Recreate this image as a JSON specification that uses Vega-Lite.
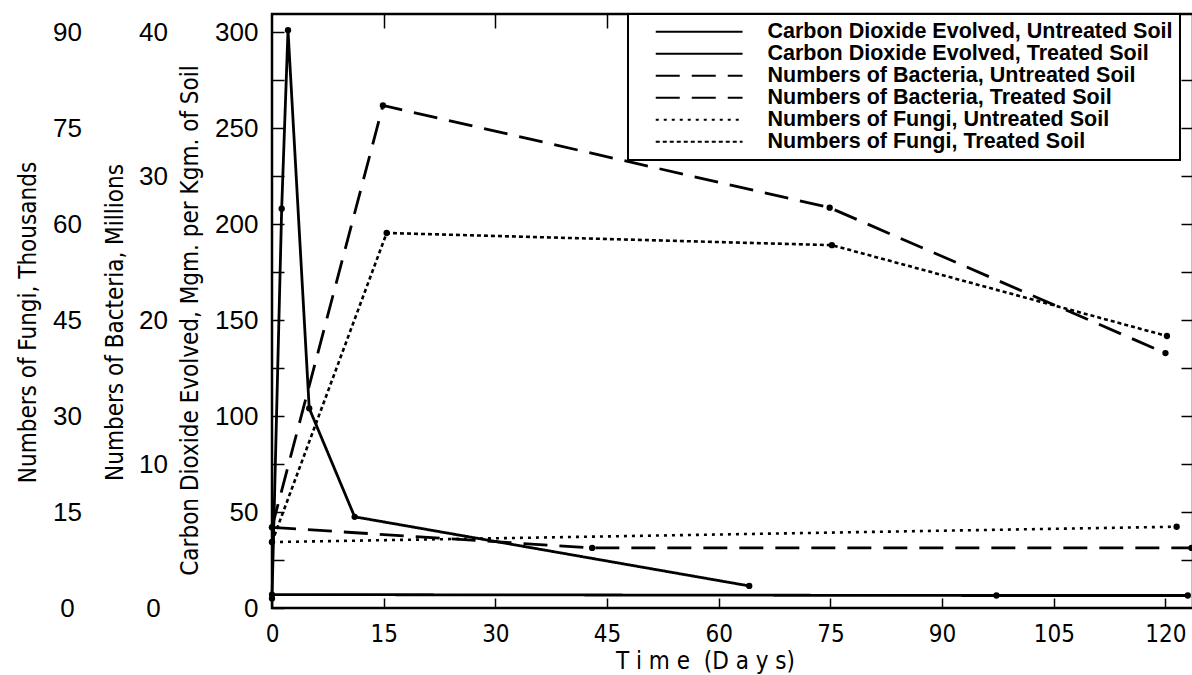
{
  "$schema": "https://vega.github.io/schema/vega-lite/v6.json",
  "autosize": "none",
  "padding": {"left": 272, "top": 14, "right": 0, "bottom": 68},
  "width": 921,
  "height": 594,
  "background": "white",
  "data": {
    "values": [
      {"kind": "CO2", "series": "Carbon Dioxide Evolved, Untreated Soil", "day": 0, "value": 7},
      {"kind": "CO2", "series": "Carbon Dioxide Evolved, Untreated Soil", "day": 97.3, "value": 6.5},
      {"kind": "CO2", "series": "Carbon Dioxide Evolved, Untreated Soil", "day": 123, "value": 6.5},
      {"kind": "CO2", "series": "Carbon Dioxide Evolved, Treated Soil", "day": 0, "value": 5},
      {"kind": "CO2", "series": "Carbon Dioxide Evolved, Treated Soil", "day": 1.3, "value": 208},
      {"kind": "CO2", "series": "Carbon Dioxide Evolved, Treated Soil", "day": 2.15, "value": 301},
      {"kind": "CO2", "series": "Carbon Dioxide Evolved, Treated Soil", "day": 5.0, "value": 104},
      {"kind": "CO2", "series": "Carbon Dioxide Evolved, Treated Soil", "day": 11.1, "value": 47.5},
      {"kind": "CO2", "series": "Carbon Dioxide Evolved, Treated Soil", "day": 64.1, "value": 11.5},
      {"kind": "Bacteria", "series": "Numbers of Bacteria, Untreated Soil", "day": 0, "value": 5.6},
      {"kind": "Bacteria", "series": "Numbers of Bacteria, Untreated Soil", "day": 43, "value": 4.17},
      {"kind": "Bacteria", "series": "Numbers of Bacteria, Untreated Soil", "day": 123.5, "value": 4.17},
      {"kind": "Bacteria", "series": "Numbers of Bacteria, Treated Soil", "day": 0, "value": 5.6},
      {"kind": "Bacteria", "series": "Numbers of Bacteria, Treated Soil", "day": 14.9, "value": 34.9},
      {"kind": "Bacteria", "series": "Numbers of Bacteria, Treated Soil", "day": 74.9, "value": 27.8},
      {"kind": "Bacteria", "series": "Numbers of Bacteria, Treated Soil", "day": 120, "value": 17.7},
      {"kind": "Fungi", "series": "Numbers of Fungi, Untreated Soil", "day": 0, "value": 10.3},
      {"kind": "Fungi", "series": "Numbers of Fungi, Untreated Soil", "day": 121.5, "value": 12.7},
      {"kind": "Fungi", "series": "Numbers of Fungi, Treated Soil", "day": 0, "value": 10.3},
      {"kind": "Fungi", "series": "Numbers of Fungi, Treated Soil", "day": 15.4, "value": 58.6},
      {"kind": "Fungi", "series": "Numbers of Fungi, Treated Soil", "day": 75.2, "value": 56.7},
      {"kind": "Fungi", "series": "Numbers of Fungi, Treated Soil", "day": 120.2, "value": 42.5}
    ]
  },
  "config": {
    "view": {"stroke": "black", "strokeWidth": 2.5},
    "axis": {
      "grid": false,
      "domain": false,
      "labelColor": "black",
      "titleColor": "black",
      "tickColor": "black",
      "tickWidth": 1.5,
      "labelFlush": false,
      "labelOverlap": false,
      "labelFont": "Liberation Sans",
      "labelFontSize": 26,
      "titleFont": "Liberation Sans Narrow, DejaVu Sans Condensed, sans-serif",
      "titleFontSize": 24,
      "titleFontWeight": "normal"
    },
    "legend": {
      "strokeColor": "black",
      "strokeWidth": 2,
      "fillColor": "white"
    }
  },
  "resolve": {"scale": {"x": "independent", "y": "independent"}},
  "layer": [
    {
      "transform": [{"filter": "datum.kind == 'CO2'"}],
      "mark": {"type": "line", "color": "black", "strokeWidth": 2.8},
      "encoding": {
        "x": {
          "field": "day", "type": "quantitative",
          "scale": {"domain": [0, 123.7], "nice": false, "zero": false},
          "axis": {
            "orient": "bottom",
            "values": [0, 15, 30, 45, 60, 75, 90, 105, 120],
            "tickSize": -10,
            "labelPadding": 24,
            "labelFont": "Liberation Sans Narrow, DejaVu Sans Condensed, sans-serif",
            "labelFontSize": 24,
            "title": "T i m e \u00a0(D a y s)",
            "titleFontSize": 24,
            "titleX": 433,
            "titleY": 53,
            "titleAlign": "center",
            "titleBaseline": "middle"
          }
        },
        "y": {
          "field": "value", "type": "quantitative",
          "scale": {"domain": [0, 309.4], "nice": false},
          "axis": {
            "orient": "left",
            "values": [0, 25, 50, 75, 100, 125, 150, 175, 200, 225, 250, 275, 300],
            "labelExpr": "datum.value % 50 == 0 ? datum.label : ''",
            "tickSize": -12,
            "labelPadding": 26,
            "title": "Carbon Dioxide Evolved, Mgm. per Kgm. of Soil",
            "titleX": -82,
            "titleY": 306,
            "titleAngle": -90,
            "titleAlign": "center",
            "titleBaseline": "middle"
          }
        },
        "strokeDash": {
          "field": "series", "type": "nominal",
          "scale": {
            "domain": ["Carbon Dioxide Evolved, Untreated Soil", "Carbon Dioxide Evolved, Treated Soil", "Numbers of Bacteria, Untreated Soil", "Numbers of Bacteria, Treated Soil", "Numbers of Fungi, Untreated Soil", "Numbers of Fungi, Treated Soil"],
            "range": [[1, 0], [1, 0], [24, 12], [24, 12], [3, 5], [4, 3]]
          },
          "legend": {
            "orient": "none",
            "legendX": 356,
            "legendY": 0,
            "title": null,
            "padding": 7,
            "symbolType": "M1.25,0H12.1",
            "symbolSize": 256,
            "symbolStrokeWidth": 2,
            "symbolStrokeColor": "black",
            "symbolOffset": 0,
            "labelOffset": 111,
            "labelFont": "Liberation Sans",
            "labelFontWeight": "bold",
            "labelFontSize": 21.5,
            "labelColor": "black",
            "labelLimit": 0,
            "rowPadding": -1
          }
        }
      }
    },
    {
      "transform": [{"filter": "datum.kind == 'Bacteria'"}],
      "encoding": {
        "x": {
          "field": "day", "type": "quantitative",
          "scale": {"domain": [0, 123.7], "nice": false, "zero": false},
          "axis": null
        },
        "y": {
          "field": "value", "type": "quantitative",
          "scale": {"domain": [0, 41.25], "nice": false},
          "axis": {
            "orient": "left",
            "offset": 119,
            "values": [0, 10, 20, 30, 40],
            "ticks": false,
            "labelPadding": 0,
            "labelAlign": "center",
            "title": "Numbers of Bacteria, Millions",
            "titleX": -38,
            "titleY": 308,
            "titleAngle": -90,
            "titleAlign": "center",
            "titleBaseline": "middle"
          }
        }
      },
      "layer": [
        {
          "mark": {"type": "line", "color": "black", "strokeWidth": 2.8},
          "encoding": {
            "strokeDash": {"field": "series", "type": "nominal"}
          }
        },
        {
          "mark": {"type": "point", "filled": true, "color": "black", "size": 40, "opacity": 1}
        }
      ]
    },
    {
      "transform": [{"filter": "datum.kind == 'Fungi'"}],
      "encoding": {
        "x": {
          "field": "day", "type": "quantitative",
          "scale": {"domain": [0, 123.7], "nice": false, "zero": false},
          "axis": null
        },
        "y": {
          "field": "value", "type": "quantitative",
          "scale": {"domain": [0, 92.82], "nice": false},
          "axis": {
            "orient": "left",
            "offset": 205,
            "values": [0, 15, 30, 45, 60, 75, 90],
            "ticks": false,
            "labelPadding": 0,
            "labelAlign": "center",
            "title": "Numbers of Fungi, Thousands",
            "titleX": -39,
            "titleY": 308,
            "titleAngle": -90,
            "titleAlign": "center",
            "titleBaseline": "middle"
          }
        }
      },
      "layer": [
        {
          "mark": {"type": "line", "color": "black", "strokeWidth": 2.6},
          "encoding": {
            "strokeDash": {"field": "series", "type": "nominal"}
          }
        },
        {
          "mark": {"type": "point", "filled": true, "color": "black", "size": 40, "opacity": 1}
        }
      ]
    },
    {
      "transform": [{"filter": "datum.kind == 'CO2'"}],
      "mark": {"type": "point", "filled": true, "color": "black", "size": 40, "opacity": 1},
      "encoding": {
        "x": {
          "field": "day", "type": "quantitative",
          "scale": {"domain": [0, 123.7], "nice": false, "zero": false},
          "axis": {
            "orient": "top",
            "values": [15, 30, 45, 60, 75, 90, 105, 120],
            "labels": false,
            "tickSize": -14,
            "title": null
          }
        },
        "y": {
          "field": "value", "type": "quantitative",
          "scale": {"domain": [0, 309.4], "nice": false},
          "axis": {
            "orient": "right",
            "values": [25, 50, 75, 100, 125, 150, 175, 200, 225, 250, 275],
            "labels": false,
            "tickSize": -12,
            "title": null
          }
        }
      }
    }
  ]
}
